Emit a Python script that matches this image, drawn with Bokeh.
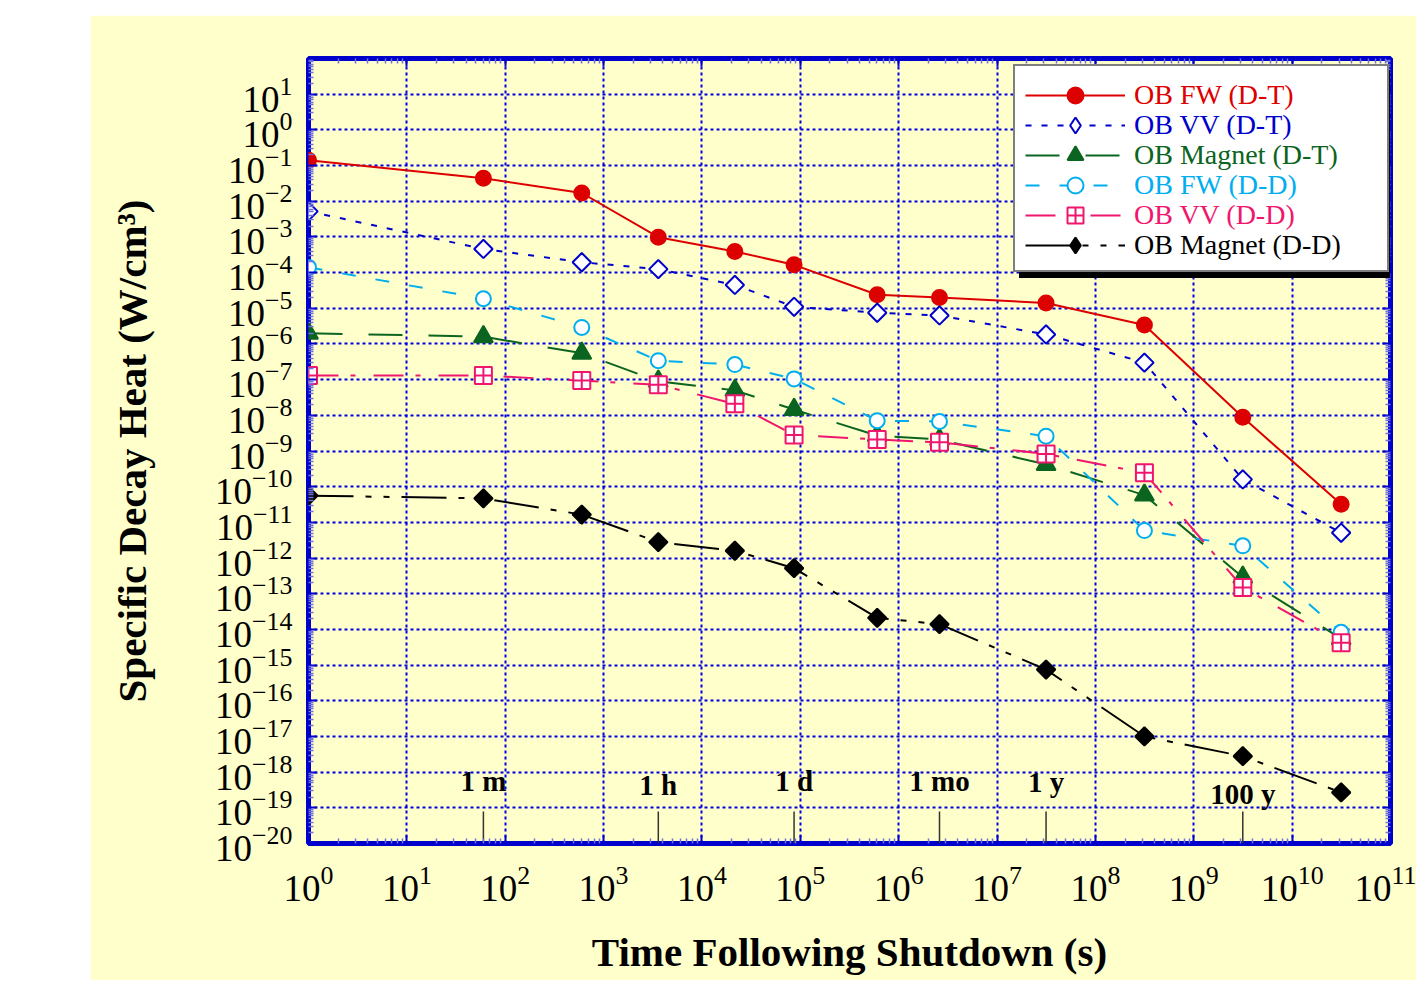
from bokeh.plotting import figure
from bokeh.models import FixedTicker, LogAxis, Legend, LegendItem, Spacer
from bokeh.layouts import column, row
from bokeh.core.properties import value
from bokeh.embed import file_html
from bokeh.resources import INLINE

# ---------------- data ----------------
times = [1, 60, 600, 3600, 21600, 86400, 604800, 2.6e6, 3.15e7, 3.15e8, 3.15e9, 3.15e10]

series_labels = ["OB FW (D-T)", "OB VV (D-T)", "OB Magnet (D-T)",
                 "OB FW (D-D)", "OB VV (D-D)", "OB Magnet (D-D)"]

ob_fw_dt = [1.4e-1, 4.4e-2, 1.7e-2, 9.8e-4, 3.9e-4, 1.65e-4, 2.4e-5, 2.0e-5, 1.4e-5, 3.4e-6, 8.8e-9, 3.2e-11]
ob_vv_dt = [5.2e-3, 4.6e-4, 1.95e-4, 1.25e-4, 4.5e-5, 1.1e-5, 7.5e-6, 6.3e-6, 1.85e-6, 3.0e-7, 1.6e-10, 5.1e-12]
ob_mag_dt = [2.0e-6, 1.6e-6, 5.5e-7, 9.0e-8, 5.0e-8, 1.45e-8, 2.7e-9, 2.1e-9, 4.2e-10, 5.8e-11, 2.9e-13, 5.5e-15]
ob_fw_dd = [1.4e-4, 1.85e-5, 2.9e-6, 3.4e-7, 2.65e-7, 1.05e-7, 7.1e-9, 6.7e-9, 2.6e-9, 5.9e-12, 2.2e-12, 8.3e-15]
ob_vv_dd = [1.3e-7, 1.3e-7, 9.4e-8, 7.2e-8, 2.1e-8, 2.8e-9, 2.1e-9, 1.75e-9, 8.3e-10, 2.45e-10, 1.5e-13, 4.2e-15]
ob_mag_dd = [5.6e-11, 4.7e-11, 1.65e-11, 2.8e-12, 1.6e-12, 5.2e-13, 2.1e-14, 1.4e-14, 7.5e-16, 1.0e-17, 2.8e-18, 2.7e-19]

time_marks = [60, 3600, 86400, 2.6e6, 3.15e7, 3.15e9]
time_mark_labels = ["1 m", "1 h", "1 d", "1 mo", "1 y", "100 y"]
time_mark_label_exp = [-18.26, -18.36, -18.24, -18.26, -18.28, -18.6]

x_tick_exps = list(range(0, 12))
y_tick_exps = list(range(-20, 2))

# ---------------- styling ----------------
YELLOW = "#FFFFCC"
BLUE = "#0000CC"
GRID = "#0000DD"
FONT = "Liberation Serif"

series_values = [ob_fw_dt, ob_vv_dt, ob_mag_dt, ob_fw_dd, ob_vv_dd, ob_mag_dd]
styles = [
    dict(color="#DD0000", dash="solid", marker="circle", size=15, fill="#DD0000", angle=0, legend_marker=None),
    dict(color="#0000CC", dash="6 10", marker="square", size=13, fill="white", angle=0.785398, legend_marker="diamond"),
    dict(color="#0B6420", dash="34 26", marker="triangle", size=19, fill="#0B6420", angle=0, legend_marker=None),
    dict(color="#00AEEF", dash="14 20", marker="circle", size=15, fill="white", angle=0, legend_marker=None),
    dict(color="#F0166E", dash="30 12 5 18", marker="square_cross", size=17, fill="white", angle=0, legend_marker=None),
    dict(color="#000000", dash="45 12 6 12 6 12", marker="square", size=13, fill="#000000", angle=0.785398, legend_marker="diamond"),
]

x_ticker = FixedTicker(ticks=[float(f"1e{k}") for k in x_tick_exps],
                       minor_ticks=[float(f"{m}e{k}") for k in x_tick_exps[:-1] for m in range(2, 10)])
y_ticker = FixedTicker(ticks=[float(f"1e{k}") for k in y_tick_exps],
                       minor_ticks=[float(f"{m}e{k}") for k in range(-20, 2) for m in range(2, 10)])

FL, FT, FW, FH = 218, 43, 1082, 785
W, H = 1326, 965

p = figure(width=W, height=H, x_axis_type="log", y_axis_type="log",
           x_range=(1, 1e11), y_range=(1e-20, 1e2),
           output_backend="svg", toolbar_location=None,
           min_border_left=FL, min_border_top=FT,
           min_border_right=W - FL - FW, min_border_bottom=H - FT - FH,
           background_fill_color=YELLOW, border_fill_color=YELLOW)
p.outline_line_color = BLUE
p.outline_line_width = 5

for g, t in ((p.xgrid[0], x_ticker), (p.ygrid[0], y_ticker)):
    g.ticker = t
    g.grid_line_color = GRID
    g.grid_line_width = 2
    g.grid_line_dash = "3 3"


def style_axis(ax, ticker, labels=True):
    ax.ticker = ticker
    ax.axis_line_color = None
    ax.major_tick_in = 8
    ax.major_tick_out = 0
    ax.minor_tick_in = 5
    ax.minor_tick_out = 0
    ax.major_tick_line_color = BLUE
    ax.major_tick_line_width = 2
    ax.minor_tick_line_color = "#7070E0"
    ax.minor_tick_line_width = 1.5
    ax.major_label_text_font = FONT
    if labels:
        ax.major_label_text_font_size = "37px"
        ax.major_label_text_color = "black"
    else:
        ax.major_label_text_font_size = "2px"
        ax.major_label_text_alpha = 0
        ax.major_label_standoff = 0
    ax.axis_label_text_font = FONT
    ax.axis_label_text_font_style = "bold"
    ax.axis_label_text_font_size = "41px"
    ax.axis_label_text_color = "black"


xa = p.xaxis[0]
style_axis(xa, x_ticker)
xa.axis_label = "Time Following Shutdown (s)"
xa.major_label_standoff = 22
xa.axis_label_standoff = 25

ya = p.yaxis[0]
style_axis(ya, y_ticker)
ya.axis_label = "Specific Decay Heat (W/cm³)"
ya.major_label_standoff = 16
ya.axis_label_standoff = 57

ra = LogAxis()
style_axis(ra, y_ticker, labels=False)
p.add_layout(ra, "right")
ta = LogAxis()
style_axis(ta, x_ticker, labels=False)
p.add_layout(ta, "above")

# time reference marks
p.segment(x0=time_marks, y0=[1e-20] * len(time_marks), x1=time_marks,
          y1=[10 ** -19.1] * len(time_marks), line_color="#333333", line_width=1.5)
p.text(x=time_marks, y=[10 ** e for e in time_mark_label_exp], text=time_mark_labels,
       text_font=value(FONT), text_font_style="bold", text_font_size="29px",
       text_align="center", text_baseline="alphabetic", text_color="black")

# series
row_items = []
for lab, vals, st in zip(series_labels, series_values, styles):
    lr = p.line(times, vals, line_color=st["color"], line_width=2, line_dash=st["dash"])
    sr = p.scatter(times, vals, marker=st["marker"], size=st["size"], angle=st["angle"],
                   line_color=st["color"], fill_color=st["fill"], line_width=2)
    leg_r = sr
    if st["legend_marker"]:
        # zero-size proxy: invisible in the plot, drawn as a diamond in the key
        leg_r = p.scatter(times, vals, marker=st["legend_marker"], size=0,
                          line_color=st["color"], fill_color=st["fill"], line_width=2)
    row_items.append((lab, st["color"], [lr, leg_r]))

# legend box (white, black border, drop shadow) + one row-legend per series
LX = 705          # box left, px from frame left
BOX_TOP = 10      # px below frame top
PAD, GW, STAND, LW = 12, 100, 9, 239
PITCH, ROWH = 30, 40
n = len(series_labels)
box_h = 2 * PAD + n * PITCH
box_bottom = FH - BOX_TOP - box_h   # px above frame bottom

dummy = p.line(times, ob_fw_dt, line_alpha=0)
box_common = dict(padding=PAD, spacing=0, glyph_width=GW, glyph_height=n * PITCH,
                  label_height=n * PITCH, label_width=LW, label_standoff=STAND,
                  label_text_font_size="10px", label_text_alpha=0, margin=0,
                  border_line_width=2, background_fill_alpha=1)
shadow = Legend(items=[LegendItem(label=" ", renderers=[dummy])], location=(LX + 6, box_bottom - 6),
                background_fill_color="black", border_line_color="black", **box_common)
box = Legend(items=[LegendItem(label=" ", renderers=[dummy])], location=(LX, box_bottom),
             background_fill_color="white", border_line_color="black", **box_common)
p.add_layout(shadow)
p.add_layout(box)

for i, (lab, color, rends) in enumerate(row_items):
    center_from_top = BOX_TOP + PAD + PITCH / 2 + i * PITCH
    bottom = FH - center_from_top - ROWH / 2
    lg = Legend(items=[LegendItem(label=lab, renderers=rends)], location=(LX + PAD, bottom),
                padding=0, spacing=0, margin=0, glyph_width=GW, glyph_height=ROWH,
                label_height=ROWH, label_standoff=STAND, label_text_font=FONT,
                label_text_font_size="28px", label_text_color=color,
                background_fill_alpha=0, border_line_color=None)
    p.add_layout(lg)

layout = column(Spacer(height=15), row(Spacer(width=90), p))
open("out.html", "w").write(file_html(layout, INLINE))
